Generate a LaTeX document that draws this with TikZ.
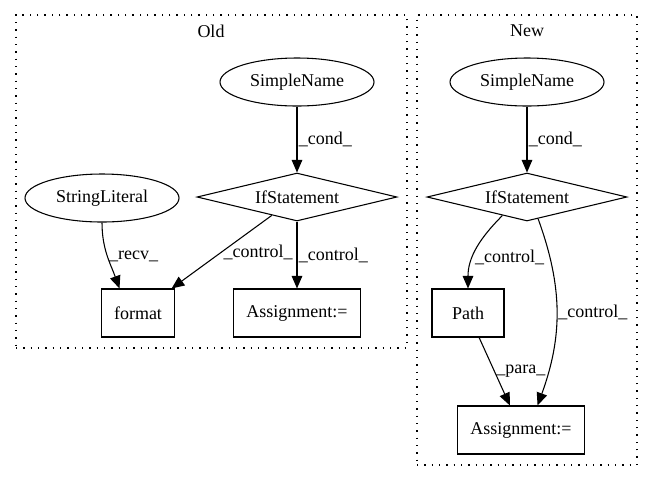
\documentclass[tikz,border=0pt]{standalone}
\usepackage{fontspec}
\setmainfont{Liberation Serif}
\usetikzlibrary{positioning,shapes.geometric,arrows.meta}

\tikzstyle{ellipse-n} = [ellipse, draw=black, minimum width=115.5pt, minimum height=36pt, inner sep=0pt]
\tikzstyle{diamond-n} = [diamond, draw=black, aspect=4.2, minimum width=150pt, minimum height=36pt, inner sep=0pt]
\tikzstyle{box} = [rectangle, minimum width=54pt, minimum height=36pt, inner xsep=9.5pt, text centered, draw=black]
\tikzstyle{cluster} = [rectangle, draw=black, dash pattern=on 1pt off 4.5pt]
\tikzstyle{arrow} = [->, >={Triangle[length=9.5pt,width=8pt]}]
\tikzstyle{lbl} = [midway, right, inner sep=1pt]

\begin{document}
\begin{tikzpicture}[x=0.75pt, y=-0.75pt, node distance=86.25pt, line width=0.8pt, font=\fontsize{13.5pt}{16pt}\selectfont]
  \useasboundingbox (0,0) rectangle (652,480);

  \node (old) [cluster, minimum width=293.25pt, minimum height=249.75pt] at (211.5,181.5) {};
  \node (old_title) at (211,31) {Old};
  \node (new) [cluster, minimum width=165pt, minimum height=337.5pt] at (527,240) {};
  \node (new_title) at (527,31) {New};

  \node (sn_old) [ellipse-n] at (297,82) {SimpleName};
  \node (if_old) [diamond-n, below of=sn_old] {IfStatement};
  \node (as_old) [box, below of=if_old, yshift=-0.75pt] {Assignment:=};
  \node (format) [box, left of=as_old, xshift=-33pt] {format};
  \node (strlit) [ellipse-n, above of=format, xshift=-27pt] {StringLiteral};

  \node (sn_new) [ellipse-n, right of=sn_old, xshift=86.25pt] {SimpleName};
  \node (if_new) [diamond-n, below of=sn_new] {IfStatement};
  \node (path) [box, below of=if_new, xshift=-44.25pt, yshift=-0.75pt] {Path};
  \node (as_new) [box, below of=path, xshift=39.75pt, yshift=-1.5pt] {Assignment:=};

  \draw [arrow] (sn_old) -- node [lbl] {\_cond\_} (if_old);
  \draw [arrow] (if_old) -- node [lbl] {\_control\_} (as_old);
  \draw [arrow] (if_old) -- node [lbl] {\_control\_} (format);
  \draw [arrow] (strlit.south) to [out=-90, in=110] node [lbl] {\_recv\_} (format.127);

  \draw [arrow] (sn_new) -- node [lbl] {\_cond\_} (if_new);
  \draw [arrow] (if_new.-143) to [out=-135, in=90] node [lbl, pos=0.62] {\_control\_} (path.north);
  \draw [arrow] (if_new.-63) to [out=-70, in=70] node [lbl] {\_control\_} (as_new.56);
  \draw [arrow] (path) -- node [lbl] {\_para\_} (as_new);
\end{tikzpicture}
\end{document}
